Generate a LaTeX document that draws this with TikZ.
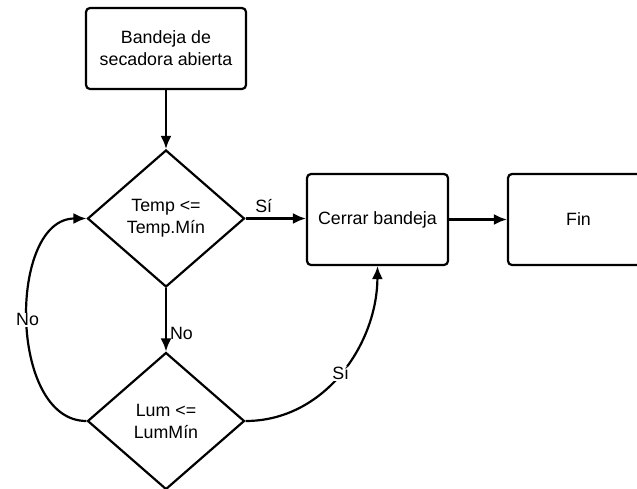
\documentclass[tikz,border=0pt]{standalone}
\usepackage{fontspec}
\setmainfont{Liberation Sans}
\usetikzlibrary{shapes.geometric,arrows.meta}
\begin{document}
\begin{tikzpicture}[x=1pt,y=-1pt,
  every node/.style={font=\fontsize{17.8}{22}\selectfont},
  box/.style={draw,line width=2.2pt,rounded corners=4pt,align=center,inner sep=0pt},
  dec/.style={draw,diamond,line width=2.2pt,align=center,inner sep=0pt,minimum width=157pt,minimum height=137pt},
  conn/.style={line width=2.2pt,-{Latex[length=13pt,width=11pt]}},
  lbl/.style={fill=white,inner sep=1pt}]
\useasboundingbox (0,0) rectangle (637,488);
\clip (0,0) rectangle (637,488);
\node[box,minimum width=160pt,minimum height=81pt] (start) at (166,48.5) {Bandeja de\\secadora abierta};
\node[dec] (d1) at (166,218.5) {Temp <=\\Temp.Mín};
\node[dec] (d2) at (166,421) {Lum <=\\LumMín};
\node[box,minimum width=141pt,minimum height=91pt] (close) at (377.5,219.5) {Cerrar bandeja};
\node[box,minimum width=141pt,minimum height=91pt] (fin) at (578.5,219.5) {Fin};
\draw[conn] (start) -- (d1);
\draw[conn] (d1.east) -- node[pos=0.3,above,inner sep=5pt] {Sí} (close.west |- d1.east);
\draw[conn] (close) -- (fin);
\draw[conn] (d1.south) -- node[pos=0.72,right,inner sep=3pt] {No} (d2.north);
\draw[conn] (d2.west) .. controls (8,421) and (8,218.5) .. node[lbl,pos=0.5] {No} (d1.west);
\draw[conn] (d2.east) .. controls (324,421) and (377,345) .. node[lbl,pos=0.5] {Sí} (close.south);
\end{tikzpicture}
\end{document}
